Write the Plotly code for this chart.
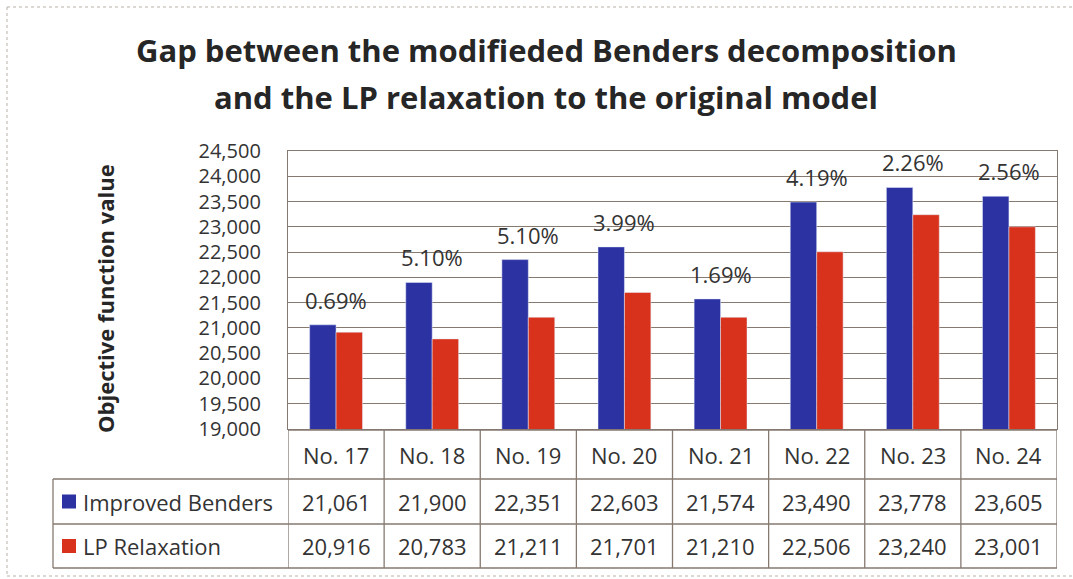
import plotly.graph_objects as go

categories = ["No. 17", "No. 18", "No. 19", "No. 20", "No. 21", "No. 22", "No. 23", "No. 24"]
improved = [21061, 21900, 22351, 22603, 21574, 23490, 23778, 23605]
lp_relax = [20916, 20783, 21211, 21701, 21210, 22506, 23240, 23001]
gaps = ["0.69%", "5.10%", "5.10%", "3.99%", "1.69%", "4.19%", "2.26%", "2.56%"]
series_names = ["Improved Benders", "LP Relaxation"]

BLUE = "#2d32a3"
RED = "#d9321c"
GRID = "#857970"
TXT = "#333333"
FONT = "Open Sans"

W, H = 1073, 579
L, R, T, B = 288, 1057, 151, 429


def px(p):
    return (p - L) / (R - L)


def py(p):
    return (B - p) / (B - T)


fig = go.Figure()
fig.add_trace(go.Bar(x=categories, y=improved, name=series_names[0], marker_color=BLUE))
fig.add_trace(go.Bar(x=categories, y=lp_relax, name=series_names[1], marker_color=RED))

annotations = []
shapes = []

# gap labels
for c, v, g in zip(categories, improved, gaps):
    annotations.append(dict(x=c, y=v, xref="x", yref="y", text=g, showarrow=False,
                            xanchor="center", yanchor="middle",
                            yshift=25, font=dict(family=FONT, size=22, color=TXT)))

# title
for txt, yc in [("Gap between the modifieded Benders decomposition", 50),
                ("and the LP relaxation to the original model", 97)]:
    annotations.append(dict(x=px(546), y=py(yc), xref="paper", yref="paper", text="<b>" + txt + "</b>",
                            showarrow=False, xanchor="center", yanchor="middle",
                            font=dict(family=FONT, size=31, color="#262626")))

# y axis title
annotations.append(dict(x=px(105), y=py(299), xref="paper", yref="paper",
                        text="<b>Objective function value</b>", textangle=-90, showarrow=False,
                        xanchor="center", yanchor="middle", font=dict(family=FONT, size=22, color="#262626")))

# table rows
row_hdr, row1, row2, row_end = 430, 479, 524, 568
leg_left = 53
for i, c in enumerate(categories):
    for text, (r0, r1) in [(c, (row_hdr, row1)),
                           (f"{improved[i]:,}", (row1, row2)),
                           (f"{lp_relax[i]:,}", (row2, row_end))]:
        annotations.append(dict(x=c, y=py((r0 + r1) / 2), xref="x", yref="paper", text=text,
                                showarrow=False, xanchor="center", yanchor="middle",
                                font=dict(family=FONT, size=22, color=TXT)))

for name, col, (r0, r1) in [(series_names[0], BLUE, (row1, row2)), (series_names[1], RED, (row2, row_end))]:
    yc = (r0 + r1) / 2
    shapes.append(dict(type="rect", xref="paper", yref="paper", x0=px(62), x1=px(76),
                       y0=py(yc + 7), y1=py(yc - 7), fillcolor=col, line=dict(width=0)))
    annotations.append(dict(x=px(81), y=py(yc), xref="paper", yref="paper", text=name, showarrow=False,
                            xanchor="left", yanchor="middle", font=dict(family=FONT, size=22, color=TXT)))

line = dict(color=GRID, width=1.3)
# horizontal table lines
shapes.append(dict(type="line", xref="paper", yref="paper", x0=px(L), x1=px(R), y0=py(row_hdr), y1=py(row_hdr), line=line))
for yy in (row1, row2, row_end):
    shapes.append(dict(type="line", xref="paper", yref="paper", x0=px(leg_left), x1=px(R), y0=py(yy), y1=py(yy), line=line))
# vertical table lines
for i in range(len(categories) + 1):
    shapes.append(dict(type="line", xref="x", yref="paper", x0=i - 0.5, x1=i - 0.5,
                       y0=py(row_hdr), y1=py(row_end), line=line))
shapes.append(dict(type="line", xref="paper", yref="paper", x0=px(leg_left), x1=px(leg_left),
                   y0=py(row1), y1=py(row_end), line=line))

# outer border (scanned page frame)
frame = dict(color="#b9b0a8", width=1, dash="dot")
shapes.append(dict(type="line", xref="paper", yref="paper", x0=px(7), x1=px(1073), y0=py(7), y1=py(7), line=frame))
shapes.append(dict(type="line", xref="paper", yref="paper", x0=px(7), x1=px(7), y0=py(7), y1=py(576), line=frame))
shapes.append(dict(type="line", xref="paper", yref="paper", x0=px(7), x1=px(1073), y0=py(576), y1=py(576), line=frame))

fig.update_layout(
    width=W, height=H,
    margin=dict(l=L, r=W - R, t=T, b=H - B, autoexpand=False),
    paper_bgcolor="white", plot_bgcolor="white",
    barmode="group", bargap=0.45, bargroupgap=0,
    showlegend=False,
    font=dict(family=FONT, color=TXT),
    xaxis=dict(range=[-0.5, 7.5], showticklabels=False, ticks="", showgrid=False, automargin=False,
               showline=True, linecolor=GRID, linewidth=1.3, mirror=True, zeroline=False),
    yaxis=dict(range=[19000, 24500], dtick=500, tickformat=",", showgrid=True, gridcolor=GRID, gridwidth=1.3,
               showline=True, linecolor=GRID, linewidth=1.3, mirror=True, zeroline=False, automargin=False,
               ticks="", ticklabelstandoff=22, tickfont=dict(family=FONT, size=20, color=TXT)),
    annotations=annotations,
    shapes=shapes,
)

fig.write_html("out.html", config={"displayModeBar": False},
               post_script="document.body.style.margin='0';")
